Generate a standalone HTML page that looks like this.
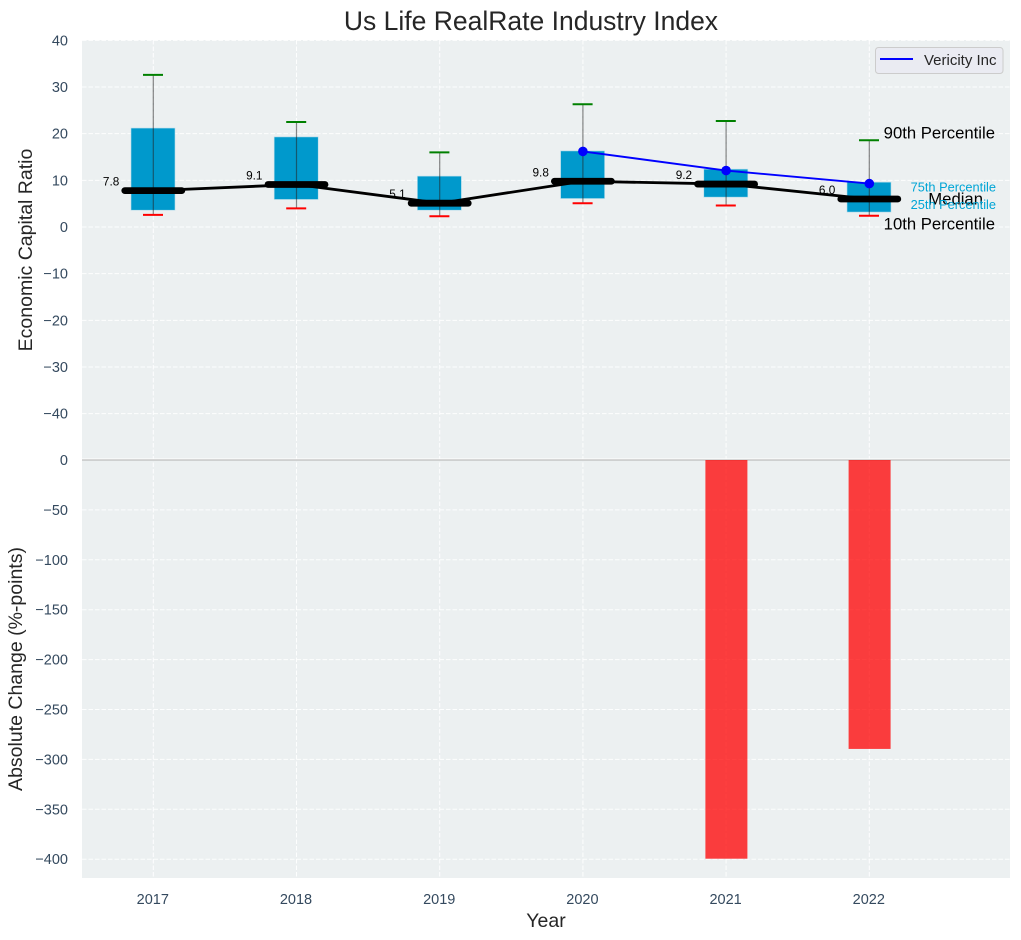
<!DOCTYPE html>
<html>
<head>
<meta charset="utf-8">
<title>Us Life RealRate Industry Index</title>
<style>
html,body{margin:0;padding:0;background:#fff;}
svg{display:block;font-family:"Liberation Sans",Arial,sans-serif;}
</style>
</head>
<body>
<svg id="chart" xmlns="http://www.w3.org/2000/svg" width="1021" height="940" viewBox="0 0 1021 940"></svg>
<script>
const years = [2017, 2018, 2019, 2020, 2021, 2022];
const p10 = [2.6, 4.0, 2.3, 5.1, 4.6, 2.4];
const p25 = [3.6, 5.9, 3.6, 6.1, 6.4, 3.2];
const medians = [7.8, 9.1, 5.1, 9.8, 9.2, 6.0];
const p75 = [21.2, 19.3, 10.9, 16.3, 12.4, 9.6];
const p90 = [32.6, 22.5, 16.0, 26.3, 22.7, 18.6];
const vericityYears = [2020, 2021, 2022];
const vericity = [16.2, 12.1, 9.3];
const changeYears = [2021, 2022];
const changes = [-399.5, -289.5];
const topTicks = [40, 30, 20, 10, 0, -10, -20, -30, -40];
const bottomTicks = [0, -50, -100, -150, -200, -250, -300, -350, -400];

const svg = document.getElementById('chart');
const NS = 'http://www.w3.org/2000/svg';
function make(tag, attrs, text) {
  const e = document.createElementNS(NS, tag);
  for (const k in attrs) e.setAttribute(k, attrs[k]);
  if (text !== undefined) e.textContent = text;
  svg.appendChild(e);
  return e;
}
const X = v => 153.3 + (v - 2017) * 143.2;
const YT = v => 227 - v * 4.667;
const YBottom = v => 460 - v * 0.998;
const fmtTick = v => (v < 0 ? '\u2212' + Math.abs(v) : String(v));
const L = 82, R = 1010, T = 40, M = 460, B = 878;
const boxW = 44, medHalf = 28.5, capHalf = 10, barW = 42;
const gridStyle = {stroke: '#ffffff', 'stroke-width': 1, 'stroke-dasharray': '4.5 2', 'stroke-opacity': 0.9};
const tickColor = '#34495e';
let el;

el = make('rect', {x: L, y: T, width: R - L, height: M - T, fill: '#ecf0f1'});


el = make('rect', {x: L, y: M, width: R - L, height: B - M, fill: '#ecf0f1'});



topTicks.forEach(t => {
  el = make('line', Object.assign({x1: L, x2: R, y1: YT(t), y2: YT(t)}, gridStyle));
  
  
  el = make('text', {x: 68, y: YT(t) + 5, 'text-anchor': 'end', 'font-size': 14.5, fill: tickColor}, fmtTick(t));
  
  
});
bottomTicks.forEach(t => {
  el = make('line', Object.assign({x1: L, x2: R, y1: YBottom(t), y2: YBottom(t)}, gridStyle));
  
  
  el = make('text', {x: 68, y: YBottom(t) + 5, 'text-anchor': 'end', 'font-size': 14.5, fill: tickColor}, fmtTick(t));
  
  
});
years.forEach(y => {
  el = make('line', Object.assign({x1: X(y), x2: X(y), y1: T, y2: B}, gridStyle));
  
  
  el = make('text', {x: X(y) - 0.5, y: 904, 'text-anchor': 'middle', 'font-size': 14.5, fill: tickColor}, String(y));
  
  
});

el = make('line', {x1: L, x2: R, y1: M - 1, y2: M - 1, stroke: '#ffffff', 'stroke-width': 1});


el = make('line', {x1: L, x2: R, y1: YBottom(0), y2: YBottom(0), stroke: '#bdbdbd', 'stroke-width': 1.3});



changeYears.forEach((y, i) => {
  const y0 = YBottom(0), y1 = YBottom(changes[i]);
  el = make('rect', {x: X(y) - barW / 2 + 0.3, y: y0, width: barW, height: y1 - y0, fill: '#ff0000', 'fill-opacity': 0.75});
  
  
});

years.forEach((y, i) => {
  el = make('rect', {x: X(y) - boxW / 2 - 0.3, y: YT(p75[i]), width: boxW, height: YT(p25[i]) - YT(p75[i]), fill: '#0099cc', stroke: '#b5dcea', 'stroke-width': 0.6});
  
  
  el = make('line', {x1: X(y), x2: X(y), y1: YT(p90[i]), y2: YT(p10[i]), stroke: '#222222', 'stroke-width': 1.2, 'stroke-opacity': 0.55});
  
  
  el = make('line', {x1: X(y) - capHalf - 0.3, x2: X(y) + capHalf - 0.3, y1: YT(p90[i]), y2: YT(p90[i]), stroke: '#008000', 'stroke-width': 2});
  
  
  el = make('line', {x1: X(y) - capHalf - 0.3, x2: X(y) + capHalf - 0.3, y1: YT(p10[i]), y2: YT(p10[i]), stroke: '#ff0000', 'stroke-width': 2});
  
  
});

el = make('polyline', {points: years.map((y, i) => X(y) + ',' + YT(medians[i])).join(' '), fill: 'none', stroke: '#000000', 'stroke-width': 2.8, 'stroke-linejoin': 'round'});



years.forEach((y, i) => {
  el = make('line', {x1: X(y) - medHalf, x2: X(y) + medHalf, y1: YT(medians[i]), y2: YT(medians[i]), stroke: '#000000', 'stroke-width': 6.8, 'stroke-linecap': 'round'});
  
  
  el = make('text', {x: X(y) - 34, y: YT(medians[i]) - 5, 'text-anchor': 'end', 'font-size': 11.8, fill: '#000000'}, medians[i].toFixed(1));
  
  
});

el = make('polyline', {points: vericityYears.map((y, i) => X(y) + ',' + YT(vericity[i])).join(' '), fill: 'none', stroke: '#0000ff', 'stroke-width': 1.9});


vericityYears.forEach((y, i) => {
  el = make('circle', {cx: X(y), cy: YT(vericity[i]), r: 4.8, fill: '#0000ff'});
  
  
});

const last = years.length - 1;
el = make('text', {x: 995, y: YT(p90[last]) - 1.5, 'text-anchor': 'end', 'font-size': 16.7, fill: '#000000'}, '90th Percentile');


el = make('text', {x: 995, y: YT(p10[last]) + 13.5, 'text-anchor': 'end', 'font-size': 16.7, fill: '#000000'}, '10th Percentile');


el = make('text', {x: 983, y: YT(medians[last]) + 5.5, 'text-anchor': 'end', 'font-size': 16.7, fill: '#000000'}, 'Median');


el = make('text', {x: 996, y: YT(p75[last]) + 9.5, 'text-anchor': 'end', 'font-size': 12.8, fill: '#00a5d6'}, '75th Percentile');


el = make('text', {x: 996, y: YT(p25[last]) - 3, 'text-anchor': 'end', 'font-size': 12.8, fill: '#00a5d6'}, '25th Percentile');



el = make('rect', {x: 875.5, y: 47.5, width: 127.5, height: 26, rx: 3, fill: '#eaeaf2', 'fill-opacity': 0.9, stroke: '#cccccc', 'stroke-width': 1});


el = make('line', {x1: 880, x2: 913, y1: 59, y2: 59, stroke: '#0000ff', 'stroke-width': 1.9});


el = make('text', {x: 924, y: 65, 'font-size': 15, fill: '#262626'}, 'Vericity Inc');



el = make('text', {x: 531, y: 30, 'text-anchor': 'middle', 'font-size': 26.5, fill: '#262626'}, 'Us Life RealRate Industry Index');


el = make('text', {x: 546, y: 927, 'text-anchor': 'middle', 'font-size': 19.5, fill: '#262626'}, 'Year');


el = make('text', {transform: 'translate(32,250) rotate(-90)', 'text-anchor': 'middle', 'font-size': 19.5, fill: '#262626'}, 'Economic Capital Ratio');


el = make('text', {transform: 'translate(22,669) rotate(-90)', 'text-anchor': 'middle', 'font-size': 19.5, fill: '#262626'}, 'Absolute Change (%-points)');


</script>
</body>
</html>
